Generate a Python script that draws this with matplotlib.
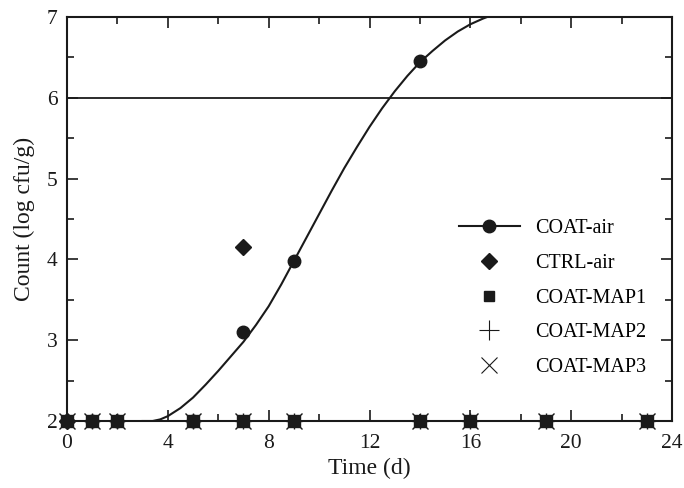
import matplotlib
matplotlib.use("Agg")
import matplotlib.pyplot as plt
from matplotlib.ticker import MultipleLocator

plt.rcParams['font.family'] = ['Liberation Serif', 'DejaVu Serif']

# Data
days_base = [0, 1, 2, 5, 7, 9, 14, 16, 19, 23]
base_val = [2, 2, 2, 2, 2, 2, 2, 2, 2, 2]

coat_air_x = [0, 1, 2, 5, 7, 9, 14]
coat_air_y = [2, 2, 2, 2, 3.1, 3.98, 6.45]

ctrl_air_x = [0, 7]
ctrl_air_y = [2, 4.15]

fit_x = [3.0, 3.4, 3.7, 4.0, 4.5, 5.0, 5.5, 6.0, 6.5, 7.0, 7.5, 8.0, 8.5, 9.0,
         9.5, 10.0, 10.5, 11.0, 11.5, 12.0, 12.5, 13.0, 13.5, 14.0, 14.5,
         15.0, 15.5, 16.0, 16.5, 17.0]
fit_y = [2.0, 2.0, 2.02, 2.06, 2.16, 2.29, 2.45, 2.62, 2.8, 2.98, 3.19, 3.42,
         3.69, 3.98, 4.27, 4.56, 4.85, 5.13, 5.39, 5.64, 5.87, 6.08, 6.27, 6.44,
         6.58, 6.71, 6.82, 6.91, 6.98, 7.04]

threshold = 6

fig = plt.figure(figsize=(6.84, 4.88), dpi=100)
ax = fig.add_axes([67/684, 1-421/488, 605/684, 404/488])

c = '#1a1a1a'
ax.axhline(threshold, color=c, lw=1.3)
ax.plot(fit_x, fit_y, color=c, lw=1.5)

ax.plot(days_base, base_val, 'x', color=c, ms=11, mew=1.0, clip_on=False, zorder=5)
ax.plot(days_base, base_val, '+', color=c, ms=12, mew=1.0, clip_on=False, zorder=5)
ax.plot(days_base, base_val, 's', color=c, ms=8, clip_on=False, zorder=6)
ax.plot(ctrl_air_x, ctrl_air_y, 'D', color=c, ms=8, clip_on=False, zorder=6)
ax.plot(coat_air_x, coat_air_y, 'o', color=c, ms=9, clip_on=False, zorder=7)

# legend handles
h1, = ax.plot([], [], '-o', color=c, ms=9, lw=1.5, label='COAT-air')
h2, = ax.plot([], [], 'D', color=c, ms=8, label='CTRL-air')
h3, = ax.plot([], [], 's', color=c, ms=7, label='COAT-MAP1')
h4, = ax.plot([], [], '+', color=c, ms=14, mew=0.8, label='COAT-MAP2')
h5, = ax.plot([], [], 'x', color=c, ms=11, mew=0.8, label='COAT-MAP3')
ax.legend(handles=[h1, h2, h3, h4, h5], loc='upper left',
          bbox_to_anchor=(0.635, 0.52), frameon=False, fontsize=14.5,
          labelspacing=0.78, handlelength=3.0, handletextpad=0.75,
          borderaxespad=0)

ax.set_xlim(0, 24)
ax.set_ylim(2, 7)
ax.xaxis.set_major_locator(MultipleLocator(4))
ax.xaxis.set_minor_locator(MultipleLocator(2))
ax.yaxis.set_major_locator(MultipleLocator(1))
ax.yaxis.set_minor_locator(MultipleLocator(0.5))
ax.tick_params(which='both', direction='in', top=True, right=True,
               color=c, width=1.2, labelsize=15.5, labelcolor=c)
ax.tick_params(which='major', length=8)
ax.tick_params(which='minor', length=5)
ax.tick_params(axis='x', pad=9)
ax.tick_params(axis='y', pad=7)
for s in ax.spines.values():
    s.set_linewidth(1.5)
    s.set_color(c)

ax.set_xlabel('Time (d)', fontsize=17, color=c, labelpad=4)
ax.set_ylabel('Count (log cfu/g)', fontsize=17, color=c, labelpad=8)

fig.savefig('out.png', dpi=100)
